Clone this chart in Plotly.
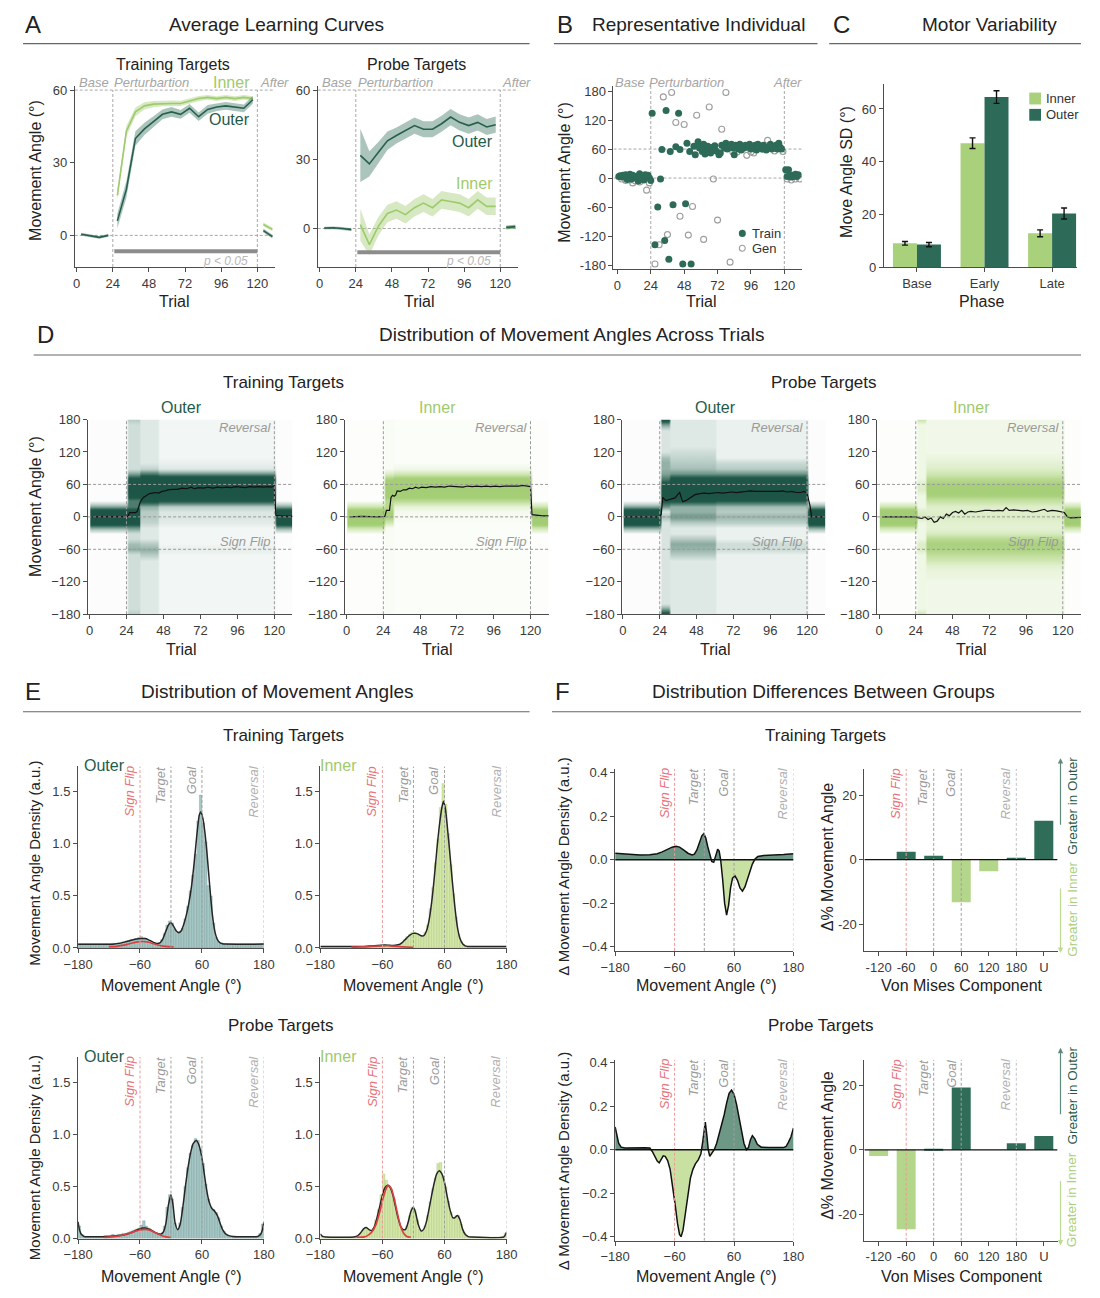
import plotly.graph_objects as go

# The page body keeps its default 8px margin, so the figure is sized to fit inside the window
# and everything is placed in window-pixel coordinates shifted by that margin.
OFF = 8
FW, FH = 1084, 1282
FONT = "Liberation Sans, Arial, sans-serif"
OUTER = "#2d6b58"
OUTER_TXT = "#1f5b4a"
INNER = "#a9d17c"
INNER_TXT = "#9fca6c"
GRAY = "#a5a5a5"
AXC = "#4d4d4d"
RED_LINE = "#f09a9a"
RED_TXT = "#e8737a"
RED_CURVE = "#d8413f"

# ======================= DATA =======================
# ---- Panel A: average learning curves (binned trials) ----
A_BASE_T = [3, 9, 15, 21]
A_PERT_T = [27, 33, 39, 45, 51, 57, 63, 69, 75, 81, 87, 93, 99, 105, 111, 117]
A_AFTER_T = [124, 130]
A_TRAIN_INNER = [16.5, 43, 51, 53.5, 54.2, 54.5, 54.5, 54.5, 55.5, 56.5, 57, 56.5, 57, 56.5, 57, 56.5]
A_TRAIN_INNER_SE = [2.0, 2.2, 1.8, 1.5, 1.3, 1.2, 1.2, 1.1, 1.1, 1.1, 1.0, 1.0, 1.0, 1.0, 1.0, 1.0]
A_TRAIN_OUTER = [6, 19, 40, 44, 47, 50, 51, 50, 52.5, 49, 52, 53, 53.5, 53, 52.5, 56]
A_TRAIN_OUTER_SE = [3.0, 3.5, 3.0, 2.5, 2.2, 2.0, 2.0, 1.8, 1.8, 1.8, 1.8, 1.6, 1.6, 1.6, 1.6, 1.6]
A_PROBE_INNER = [1.7, -7, 1, 6.5, 8, 6, 9, 11, 9, 12.4, 11.7, 11, 9, 12.4, 9.6, 9.6]
A_PROBE_INNER_SE = [7.0, 4.5, 4.0, 3.8, 3.8, 3.8, 3.8, 3.8, 3.8, 3.8, 3.8, 3.8, 3.8, 3.8, 3.8, 3.8]
A_PROBE_OUTER = [31.7, 28, 33, 38, 40.3, 42.4, 44.6, 43, 43, 45.4, 48.3, 46, 44.6, 46, 44, 45]
A_PROBE_OUTER_SE = [11.5, 5.5, 4.5, 4.0, 3.5, 3.5, 3.5, 3.5, 3.5, 3.5, 3.5, 3.5, 3.5, 3.5, 3.5, 3.5]
A_TRAIN_BASE = [0.5, 0.0, -0.8, 0.0]
A_PROBE_BASE = [0.2, 0.3, 0.0, -0.5]
A_BASE_SE = [0.6, 0.6, 0.6, 0.6]
A_TRAIN_AFTER_INNER = [4.5, 2.5]
A_TRAIN_AFTER_OUTER = [2.0, -0.5]
A_PROBE_AFTER_INNER = [0.3, 0.6]
A_PROBE_AFTER_OUTER = [0.5, 0.8]
A_AFTER_SE = [0.8, 0.8]
A_SIG_TRIALS = [25, 120]
A_SIG_LEVEL = {1: -6.5, 2: -10.3}

# ---- Panel B: representative individual (trial, angle) ----
B_TRAIN = [(1, 3), (2, 5), (3, 2), (4, 6), (5, 4), (6, 7), (7, -3), (8, 5), (9, 8), (10, -2), (11, 6),
           (12, 3), (13, 0), (14, 4), (15, -6), (16, 9), (17, 2), (18, 5), (19, -4), (20, 7), (21, 3),
           (22, 6), (23, 0), (24, -5),
           (25, 134), (27, -138), (29, -60), (31, -2), (32, 59), (34, -129), (35, 140), (37, -168),
           (38, 55), (40, -55), (42, 65), (44, 134), (45, 59), (47, -178), (49, -53), (50, 72), (52, 55),
           (53, -178), (55, 66), (56, 48), (58, 75), (59, 62), (60, 68), (61, 55), (62, 70), (63, 50),
           (64, 60), (65, 66), (67, 52), (68, 63), (70, 67), (71, 56), (73, 48), (74, 52), (75, 68),
           (77, 62), (78, 72), (79, 60), (80, 66), (82, 70), (83, 62), (84, 48), (85, 68), (87, 60),
           (88, 70), (89, 58), (90, 65), (91, 62), (92, 68), (94, 64), (95, 70), (96, 60), (97, 66),
           (99, 68), (100, 58), (101, 70), (102, 63), (103, 66), (104, 60), (105, 68), (106, 64),
           (107, 58), (109, 62), (110, 70), (111, 60), (112, 65), (113, 62), (114, 68), (115, 60),
           (116, 72), (117, 64), (118, 60),
           (121, 17), (122, 3), (123, 17), (124, 5), (125, 2), (126, 6), (127, 4), (128, 8), (129, 3), (130, 7)]
B_GEN = [(3, -2), (6, -5), (9, -4), (11, -10), (13, -6), (16, -8), (19, -3), (21, -25), (23, -10),
         (27, -178), (30, -138), (33, 168), (36, -117), (39, 177), (42, 115), (45, -79), (48, 111),
         (51, -118), (54, -59), (57, 130), (62, -127), (66, 147), (69, -2), (72, -87), (75, 101),
         (78, 177), (81, -174), (83, 54), (86, 54), (89, 59), (93, 47), (96, 54), (98, 52), (104, 60),
         (108, 78), (113, 56), (119, 55), (122, -2), (125, -4), (128, -2), (131, -2)]
B_LEGEND = ["Train", "Gen"]

# ---- Panel C: motor variability ----
C_PHASES = ["Base", "Early", "Late"]
C_GROUPS = ["Inner", "Outer"]
C_INNER = [9.0, 47.0, 12.8]
C_INNER_SE = [0.7, 2.0, 1.3]
C_OUTER = [8.5, 64.5, 20.3]
C_OUTER_SE = [0.8, 2.4, 2.1]

# ---- Panel D: density heatmaps, angle profiles per trial phase (bg, {angle: density}) ----
D_ANGLES = list(range(-180, 181, 10))
D_TRIALS = list(range(1, 133))
BASE_OUT = (0.02, {-20: 0.45, -10: 1.0, 0: 1.0, 10: 1.0, 20: 0.45})
BASE_IN = (0.01, {-20: 0.45, -10: 1.0, 0: 1.0, 10: 1.0, 20: 0.45})
D1_PHASES = [(1, 24, BASE_OUT),
             (25, 32, (0.2, {-180: 0.3, -60: 0.4, -50: 0.35, -20: 0.5, -10: 0.9, 0: 1.0, 10: 0.9, 20: 0.6,
                             30: 0.6, 40: 0.85, 50: 0.95, 60: 0.95, 70: 0.8, 80: 0.45, 180: 0.3})),
             (33, 44, (0.14, {-70: 0.3, -60: 0.4, -50: 0.3, -10: 0.25, 0: 0.3, 10: 0.3, 20: 0.4, 30: 0.85,
                              40: 1.0, 50: 1.0, 60: 1.0, 70: 1.0, 80: 0.6, 90: 0.25})),
             (45, 120, (0.06, {-60: 0.1, -10: 0.12, 0: 0.15, 10: 0.15, 20: 0.28, 30: 0.78, 40: 1.0, 50: 1.0,
                               60: 1.0, 70: 1.0, 80: 0.5, 90: 0.14, 100: 0.09})),
             (121, 132, BASE_OUT)]
D2_PHASES = [(1, 24, BASE_IN),
             (25, 30, (0.04, {-10: 0.4, 0: 0.75, 10: 0.75, 20: 0.6, 30: 0.6, 40: 0.85, 50: 0.9, 60: 0.9,
                              70: 0.7, 80: 0.3})),
             (31, 120, (0.025, {0: 0.05, 10: 0.06, 20: 0.2, 30: 0.6, 40: 0.85, 50: 0.9, 60: 0.9, 70: 0.8,
                                80: 0.4, 90: 0.1})),
             (121, 132, BASE_IN)]
D3_PHASES = [(1, 24, BASE_OUT),
             (25, 30, (0.16, {-180: 0.9, -170: 0.45, 0: 0.35, 20: 0.5, 30: 0.8, 40: 0.95, 50: 0.95, 60: 0.85,
                              70: 0.6, 80: 0.45, 90: 0.4, 100: 0.4, 110: 0.35, 170: 0.45, 180: 0.9})),
             (31, 60, (0.14, {-70: 0.3, -60: 0.38, -50: 0.42, -40: 0.3, -10: 0.3, 0: 0.5, 10: 0.4, 20: 0.4,
                              30: 0.8, 40: 1.0, 50: 1.0, 60: 1.0, 70: 0.85, 80: 0.5, 90: 0.35, 100: 0.3,
                              110: 0.25, 120: 0.2})),
             (61, 120, (0.09, {-60: 0.2, -50: 0.2, -10: 0.28, 0: 0.38, 10: 0.3, 20: 0.35, 30: 0.75, 40: 1.0,
                               50: 1.0, 60: 1.0, 70: 0.85, 80: 0.5, 90: 0.3, 100: 0.22})),
             (121, 132, BASE_OUT)]
D4_PHASES = [(1, 24, BASE_IN),
             (25, 30, (0.12, {-180: 0.45, -60: 0.3, -50: 0.3, 0: 0.35, 10: 0.3, 50: 0.3, 60: 0.3, 180: 0.45})),
             (31, 120, (0.1, {-110: 0.15, -100: 0.18, -90: 0.25, -80: 0.4, -70: 0.55, -60: 0.68, -50: 0.72,
                              -40: 0.6, -30: 0.35, -20: 0.22, -10: 0.25, 0: 0.32, 10: 0.28, 20: 0.28, 30: 0.5,
                              40: 0.72, 50: 0.78, 60: 0.75, 70: 0.6, 80: 0.42, 90: 0.3, 100: 0.22, 110: 0.16})),
             (121, 132, BASE_IN)]
D1_MEAN = [(2, 0), (24, 0), (25, 1), (26, 8), (30, 8), (31, 10), (32, 18), (33, 28), (35, 36), (37, 40),
           (39, 43), (41, 44), (43, 45), (45, 44), (47, 47), (49, 48), (51, 50), (54, 51), (57, 51), (60, 53),
           (63, 52), (66, 55), (68, 52), (71, 54), (74, 53), (77, 55), (80, 53), (83, 55), (86, 54), (89, 55),
           (92, 54), (95, 56), (98, 55), (101, 54), (104, 56), (107, 55), (110, 56), (113, 55), (116, 56),
           (118, 55), (120, 57), (121, 3), (124, 2), (128, 2), (132, 1)]
D2_MEAN = [(2, 0), (10, 1), (20, 0), (24, 0), (25, 1), (26, 12), (28, 12), (29, 36), (30, 40), (31, 38),
           (32, 40), (33, 48), (35, 47), (37, 50), (39, 50), (41, 53), (43, 52), (45, 55), (47, 53), (49, 55),
           (52, 54), (55, 56), (58, 55), (61, 56), (64, 55), (67, 57), (70, 56), (73, 56), (76, 55), (79, 57),
           (82, 56), (85, 57), (88, 56), (91, 57), (94, 56), (97, 57), (100, 56), (103, 57), (106, 57),
           (109, 56), (112, 57), (115, 58), (118, 57), (120, 56), (121, 4), (124, 3), (128, 2), (132, 2)]
D3_MEAN = [(2, 0), (24, 0), (25, 5), (26, 36), (28, 30), (30, 32), (32, 33), (34, 35), (36, 42), (37, 45),
           (38, 36), (39, 28), (41, 30), (43, 34), (45, 38), (47, 41), (50, 43), (53, 44), (56, 43), (59, 44),
           (62, 45), (65, 44), (68, 45), (71, 46), (74, 45), (77, 46), (80, 47), (83, 48), (86, 47), (89, 47),
           (92, 46), (95, 47), (98, 46), (101, 47), (104, 48), (107, 46), (110, 47), (113, 45), (116, 45),
           (118, 47), (120, 44), (122, 20), (123, 0), (132, 0)]
D4_MEAN = [(2, 0), (24, 0), (26, -2), (28, -3), (30, 0), (32, -5), (34, -2), (36, -10), (38, -8), (40, 0),
           (42, -3), (44, 5), (46, 2), (48, 8), (50, 10), (52, 7), (54, 12), (56, 5), (58, 9), (60, 10),
           (63, 9), (66, 11), (69, 12), (72, 12), (75, 11), (78, 12), (81, 11), (83, 17), (85, 12), (88, 13),
           (91, 12), (94, 11), (97, 12), (100, 9), (103, 10), (106, 12), (108, 14), (110, 10), (113, 12),
           (116, 11), (119, 10), (121, 8), (123, 0), (125, -2), (132, -1)]

# ---- Panel E: angle histograms (5 deg bins), fitted density and sign-flip component ----
E_CENTERS = [-177.5 + 5 * k for k in range(72)]
E1_HIST_BASE = 0.04
E1_HIST = {-112.5: 0.045, -107.5: 0.04, -102.5: 0.05, -97.5: 0.05, -92.5: 0.06, -87.5: 0.055, -82.5: 0.07,
           -77.5: 0.08, -72.5: 0.075, -67.5: 0.09, -62.5: 0.1, -57.5: 0.11, -52.5: 0.095, -47.5: 0.085,
           -42.5: 0.07, -37.5: 0.05, -32.5: 0.05, -27.5: 0.04, -22.5: 0.05, -17.5: 0.08, -12.5: 0.14,
           -7.5: 0.22, -2.5: 0.26, 2.5: 0.24, 7.5: 0.18, 12.5: 0.14, 17.5: 0.16, 22.5: 0.19, 27.5: 0.28,
           32.5: 0.4, 37.5: 0.55, 42.5: 0.7, 47.5: 0.9, 52.5: 1.22, 57.5: 1.47, 62.5: 1.2, 67.5: 1.02,
           72.5: 0.6, 77.5: 0.5, 82.5: 0.24, 87.5: 0.1, 92.5: 0.06, 97.5: 0.05}
E2_HIST_BASE = 0.015
E2_HIST = {-67.5: 0.02, -62.5: 0.03, -57.5: 0.03, -52.5: 0.03, -47.5: 0.025, -42.5: 0.025, -27.5: 0.03,
           -22.5: 0.05, -17.5: 0.08, -12.5: 0.11, -7.5: 0.13, -2.5: 0.15, 2.5: 0.15, 7.5: 0.14, 12.5: 0.12,
           17.5: 0.11, 22.5: 0.15, 27.5: 0.22, 32.5: 0.38, 37.5: 0.58, 42.5: 0.82, 47.5: 1.05, 52.5: 1.35,
           57.5: 1.58, 62.5: 1.38, 67.5: 1.1, 72.5: 0.8, 77.5: 0.52, 82.5: 0.3, 87.5: 0.13, 92.5: 0.06,
           97.5: 0.03}
E3_HIST_BASE = 0.02
E3_HIST = {-177.5: 0.12, -172.5: 0.04, -127.5: 0.03, -122.5: 0.03, -117.5: 0.03, -112.5: 0.04, -107.5: 0.03,
           -102.5: 0.04, -97.5: 0.04, -92.5: 0.05, -87.5: 0.05, -82.5: 0.06, -77.5: 0.07, -72.5: 0.08,
           -67.5: 0.09, -62.5: 0.1, -57.5: 0.13, -52.5: 0.17, -47.5: 0.12, -42.5: 0.1, -37.5: 0.08,
           -32.5: 0.06, -27.5: 0.05, -22.5: 0.04, -17.5: 0.05, -12.5: 0.12, -7.5: 0.3, -2.5: 0.42, 2.5: 0.38,
           7.5: 0.15, 12.5: 0.09, 17.5: 0.15, 22.5: 0.3, 27.5: 0.5, 32.5: 0.68, 37.5: 0.82, 42.5: 0.9,
           47.5: 0.96, 52.5: 0.94, 57.5: 0.86, 62.5: 0.72, 67.5: 0.52, 72.5: 0.38, 77.5: 0.3, 82.5: 0.28,
           87.5: 0.25, 92.5: 0.2, 97.5: 0.12, 102.5: 0.07, 107.5: 0.04, 112.5: 0.03, 172.5: 0.05, 177.5: 0.14}
E4_HIST_BASE = 0.015
E4_HIST = {-177.5: 0.03, -102.5: 0.04, -97.5: 0.08, -92.5: 0.1, -87.5: 0.09, -82.5: 0.08, -77.5: 0.1,
           -72.5: 0.18, -67.5: 0.28, -62.5: 0.42, -57.5: 0.62, -52.5: 0.56, -47.5: 0.5, -42.5: 0.47,
           -37.5: 0.38, -32.5: 0.26, -27.5: 0.15, -22.5: 0.1, -17.5: 0.08, -12.5: 0.12, -7.5: 0.22, -2.5: 0.3,
           2.5: 0.28, 7.5: 0.18, 12.5: 0.09, 17.5: 0.07, 22.5: 0.12, 27.5: 0.22, 32.5: 0.35, 37.5: 0.48,
           42.5: 0.58, 47.5: 0.72, 52.5: 0.73, 57.5: 0.6, 62.5: 0.5, 67.5: 0.36, 72.5: 0.25, 77.5: 0.2,
           82.5: 0.22, 87.5: 0.22, 92.5: 0.14, 97.5: 0.06, 102.5: 0.03, 177.5: 0.05}
E1_FIT = [(-180, 0.035), (-115, 0.035), (-110, 0.037), (-100, 0.044), (-90, 0.056), (-80, 0.07), (-70, 0.083),
          (-60, 0.09), (-55, 0.092), (-50, 0.09), (-45, 0.083), (-40, 0.07), (-35, 0.056), (-30, 0.046),
          (-25, 0.042), (-20, 0.055), (-15, 0.095), (-10, 0.16), (-5, 0.22), (0, 0.245), (5, 0.21),
          (10, 0.165), (15, 0.145), (20, 0.165), (25, 0.23), (30, 0.32), (35, 0.44), (40, 0.6), (45, 0.82),
          (50, 1.08), (55, 1.28), (58, 1.31), (62, 1.24), (66, 1.1), (70, 0.9), (75, 0.6), (80, 0.33),
          (85, 0.16), (90, 0.08), (95, 0.05), (100, 0.04), (105, 0.037), (180, 0.037)]
E2_FIT = [(-180, 0.015), (-100, 0.015), (-90, 0.017), (-80, 0.02), (-70, 0.024), (-60, 0.027), (-50, 0.027),
          (-40, 0.024), (-30, 0.03), (-25, 0.04), (-20, 0.06), (-15, 0.085), (-10, 0.11), (-5, 0.13),
          (0, 0.14), (5, 0.14), (10, 0.13), (15, 0.117), (20, 0.118), (25, 0.16), (30, 0.26), (35, 0.43),
          (40, 0.66), (45, 0.93), (50, 1.17), (55, 1.35), (58, 1.41), (62, 1.33), (66, 1.14), (70, 0.93),
          (75, 0.65), (80, 0.4), (85, 0.2), (90, 0.09), (95, 0.04), (100, 0.02), (105, 0.015), (180, 0.015)]
E3_FIT = [(-180, 0.16), (-177, 0.08), (-173, 0.035), (-168, 0.02), (-120, 0.02), (-110, 0.023), (-100, 0.028),
          (-90, 0.037), (-80, 0.05), (-70, 0.072), (-60, 0.093), (-55, 0.1), (-50, 0.1), (-45, 0.095),
          (-40, 0.085), (-35, 0.07), (-30, 0.056), (-25, 0.046), (-20, 0.042), (-15, 0.06), (-10, 0.14),
          (-5, 0.32), (0, 0.42), (4, 0.32), (8, 0.15), (13, 0.085), (18, 0.14), (23, 0.3), (28, 0.5),
          (33, 0.68), (38, 0.82), (43, 0.91), (49, 0.94), (54, 0.9), (59, 0.8), (64, 0.64), (69, 0.47),
          (74, 0.35), (79, 0.29), (85, 0.26), (90, 0.22), (95, 0.15), (100, 0.085), (106, 0.045),
          (112, 0.028), (120, 0.02), (168, 0.02), (173, 0.035), (177, 0.08), (180, 0.16)]
E4_FIT = [(-180, 0.045), (-176, 0.02), (-170, 0.015), (-115, 0.015), (-108, 0.025), (-102, 0.055), (-96, 0.095),
          (-91, 0.105), (-86, 0.085), (-81, 0.075), (-76, 0.11), (-71, 0.19), (-66, 0.29), (-61, 0.4),
          (-56, 0.48), (-50, 0.51), (-45, 0.49), (-40, 0.42), (-35, 0.31), (-30, 0.2), (-25, 0.12),
          (-20, 0.085), (-15, 0.09), (-10, 0.16), (-5, 0.26), (0, 0.3), (4, 0.25), (9, 0.14), (15, 0.072),
          (20, 0.09), (25, 0.16), (30, 0.28), (35, 0.41), (40, 0.53), (45, 0.62), (50, 0.65), (55, 0.62),
          (60, 0.54), (65, 0.41), (70, 0.29), (76, 0.2), (80, 0.2), (85, 0.22), (90, 0.18), (95, 0.09),
          (100, 0.04), (106, 0.018), (112, 0.015), (175, 0.015), (180, 0.06)]
E1_FLIP = [(-120, 0.012), (-105, 0.016), (-95, 0.024), (-85, 0.035), (-75, 0.048), (-65, 0.058), (-55, 0.062),
           (-45, 0.057), (-35, 0.043), (-25, 0.028), (-15, 0.017), (-5, 0.012), (5, 0.01)]
E2_FLIP = [(-120, 0.008), (-100, 0.01), (-80, 0.015), (-60, 0.02), (-50, 0.021), (-40, 0.018), (-20, 0.01),
           (0, 0.006)]
E3_FLIP = [(-130, 0.01), (-115, 0.016), (-100, 0.026), (-90, 0.036), (-80, 0.05), (-70, 0.068), (-60, 0.082),
           (-50, 0.088), (-40, 0.078), (-30, 0.055), (-20, 0.032), (-10, 0.016), (0, 0.01)]
E4_FLIP = [(-110, 0.012), (-95, 0.015), (-88, 0.03), (-80, 0.065), (-72, 0.14), (-65, 0.26), (-58, 0.4),
           (-52, 0.49), (-48, 0.51), (-43, 0.48), (-37, 0.38), (-31, 0.24), (-25, 0.12), (-19, 0.05),
           (-13, 0.02), (-5, 0.012)]

# ---- Panel F: differences (outer - inner) ----
F1_DIFF = [(-180, 0.03), (-165, 0.027), (-150, 0.024), (-130, 0.022), (-110, 0.023), (-95, 0.028), (-85, 0.036),
           (-75, 0.048), (-65, 0.058), (-57, 0.062), (-50, 0.058), (-42, 0.045), (-33, 0.03), (-25, 0.022),
           (-20, 0.026), (-15, 0.045), (-10, 0.08), (-5, 0.11), (-1, 0.12), (3, 0.1), (7, 0.06), (11, 0.02),
           (15, -0.008), (19, -0.012), (23, 0.015), (27, 0.048), (30, 0.04), (33, 0.0), (37, -0.09),
           (41, -0.2), (45, -0.255), (49, -0.21), (53, -0.13), (57, -0.085), (62, -0.075), (67, -0.095),
           (72, -0.13), (77, -0.145), (82, -0.125), (87, -0.09), (92, -0.05), (97, -0.02), (102, 0.002),
           (108, 0.015), (120, 0.02), (140, 0.021), (160, 0.024), (180, 0.028)]
F3_DIFF = [(-180, 0.105), (-177, 0.07), (-173, 0.03), (-168, 0.012), (-160, 0.008), (-120, 0.009), (-110, 0.008),
           (-105, -0.008), (-100, -0.03), (-95, -0.052), (-91, -0.06), (-87, -0.045), (-83, -0.028),
           (-79, -0.03), (-74, -0.05), (-69, -0.09), (-64, -0.16), (-59, -0.25), (-54, -0.34), (-50, -0.39),
           (-47, -0.4), (-43, -0.37), (-38, -0.29), (-33, -0.2), (-28, -0.13), (-23, -0.09), (-18, -0.065),
           (-12, -0.045), (-7, -0.02), (-3, 0.04), (0, 0.11), (2, 0.128), (5, 0.07), (8, 0.0), (11, -0.03),
           (15, -0.018), (20, 0.0), (25, 0.03), (30, 0.075), (35, 0.11), (40, 0.16), (45, 0.215), (50, 0.26),
           (55, 0.275), (60, 0.255), (65, 0.21), (70, 0.15), (75, 0.09), (80, 0.03), (85, 0.0), (89, 0.01),
           (93, 0.045), (97, 0.065), (102, 0.05), (107, 0.025), (115, 0.012), (130, 0.01), (160, 0.01),
           (165, 0.015), (170, 0.035), (175, 0.06), (180, 0.1)]
F_COMPONENTS = ["-120", "-60", "0", "60", "120", "180", "U"]
F2_DPCT = [0.0, 2.5, 1.2, -13.2, -3.6, 0.35, 12.1]
F4_DPCT = [-1.9, -24.6, 0.2, 19.3, 0.0, 2.0, 4.3]

# ======================= LAYOUT GEOMETRY =======================
# n: (x px span, y px span, x range, y range)  -- in window pixels
AXES = {
    1: ((61, 266), (80, 263), (-1.3, 131.6), (-13.06, 61.63)),
    2: ((310, 515), (80, 263), (-1.3, 131.7), (-16.7, 61.7)),
    3: ((613, 806), (80, 265), (-2.8, 132.6), (-188.2, 190.2)),
    4: ((890, 1088), (78, 263), (-0.49, 2.37), (0, 69.4)),
    5: ((74.7, 284), (417.3, 614.3), (-0.9, 131.7), (-180, 180)),
    6: ((338, 546.5), (417.3, 614.3), (-0.96, 131.8), (-180, 180)),
    7: ((622, 830), (417.3, 614.3), (-0.4, 131.9), (-180, 180)),
    8: ((883, 1092), (417.3, 614.3), (-1.3, 131.9), (-180, 180)),
    9: ((64.4, 254.8), (768.3, 952), (-180, 180), (0, 1.745)),
    10: ((312.7, 503.4), (768.3, 952), (-180, 180), (0, 1.745)),
    11: ((64.4, 254.8), (1062, 1246), (-180, 180), (0, 1.745)),
    12: ((312.7, 503.4), (1062, 1246), (-180, 180), (0, 1.745)),
    13: ((614.7, 797.4), (770.7, 955), (-180, 180), (-0.42, 0.419)),
    14: ((870, 1068), (770.7, 955), (-0.52, 6.5), (-28.3, 28.2)),
    15: ((614.7, 797.4), (1065, 1248.3), (-180, 180), (-0.419, 0.415)),
    16: ((870, 1068), (1065, 1248.3), (-0.52, 6.5), (-28.2, 27.96)),
}


def PX(x):
    return min(max((x - OFF) / FW, 0.0), 1.0)


def PY(y):
    return min(max(1 - (y - OFF) / FH, 0.0), 1.0)


def ids(n):
    return ("x", "y") if n == 1 else (f"x{n}", f"y{n}")


def keys(n):
    return ("xaxis", "yaxis") if n == 1 else (f"xaxis{n}", f"yaxis{n}")


fig = go.Figure()
shapes = []
annotations = []


def add(tr):
    fig.add_trace(tr)


def sc(n, x, y, **kw):
    xa, ya = ids(n)
    return go.Scatter(x=x, y=y, xaxis=xa, yaxis=ya, showlegend=False, hoverinfo="skip", **kw)


def unzip(pairs):
    return [p[0] for p in pairs], [p[1] for p in pairs]


def text(x, y, s, size=13, color="#222", xa="center", ya="middle", angle=0):
    annotations.append(dict(x=PX(x), y=PY(y), xref="paper", yref="paper", text=s, showarrow=False,
                            font=dict(family=FONT, size=size, color=color), xanchor=xa, yanchor=ya,
                            textangle=angle))


def dline(n, x0, x1, y0, y1, color="#a8a8a8", width=1, dash="3px,2px", layer="above"):
    xa, ya = ids(n)
    shapes.append(dict(type="line", xref=xa, yref=ya, x0=x0, x1=x1, y0=y0, y1=y1,
                       line=dict(color=color, width=width, dash=dash), layer=layer))


def pline(x0, y0, x1, y1, color="#666", width=1.2):
    shapes.append(dict(type="line", xref="paper", yref="paper", x0=PX(x0), y0=PY(y0), x1=PX(x1), y1=PY(y1),
                       line=dict(color=color, width=width)))


def pshape(kind, cx, cy, r, fill, line_color, lw=0):
    shapes.append(dict(type=kind, xref="paper", yref="paper", x0=PX(cx - r), x1=PX(cx + r), y0=PY(cy + r),
                       y1=PY(cy - r), fillcolor=fill, line=dict(color=line_color, width=lw)))


# ======================= PANEL A =======================
def band_line(n, xs, mean, se, lcolor, fcolor, width=1.6):
    up = [m + s for m, s in zip(mean, se)]
    lo = [m - s for m, s in zip(mean, se)]
    add(sc(n, xs + xs[::-1], up + lo[::-1], fill="toself", fillcolor=fcolor, line=dict(width=0), mode="lines"))
    add(sc(n, xs, mean, mode="lines", line=dict(color=lcolor, width=width)))


IN_L, IN_F = "#9dcb6b", "rgba(166,207,120,0.45)"
OUT_L, OUT_F = "#275f4f", "rgba(45,107,88,0.40)"
for n, base, ai, ao, ise, oi, o, ose in [
        (1, A_TRAIN_BASE, A_TRAIN_AFTER_INNER, A_TRAIN_AFTER_OUTER, A_TRAIN_INNER_SE, A_TRAIN_INNER,
         A_TRAIN_OUTER, A_TRAIN_OUTER_SE),
        (2, A_PROBE_BASE, A_PROBE_AFTER_INNER, A_PROBE_AFTER_OUTER, A_PROBE_INNER_SE, A_PROBE_INNER,
         A_PROBE_OUTER, A_PROBE_OUTER_SE)]:
    xr, yr = AXES[n][2], AXES[n][3]
    dline(n, xr[0], xr[1], 60, 60, layer="below")
    dline(n, xr[0], xr[1], 0, 0, layer="below")
    dline(n, 24, 24, yr[0], 60, layer="below")
    dline(n, 120, 120, yr[0], 60, layer="below")
    band_line(n, A_PERT_T, oi, ise, IN_L, IN_F)
    band_line(n, A_PERT_T, o, ose, OUT_L, OUT_F)
    band_line(n, A_BASE_T, base, A_BASE_SE, OUT_L, OUT_F)
    band_line(n, A_AFTER_T, ai, A_AFTER_SE, IN_L, IN_F)
    band_line(n, A_AFTER_T, ao, A_AFTER_SE, OUT_L, OUT_F)
    xa, ya = ids(n)
    shapes.append(dict(type="line", xref=xa, yref=ya, x0=A_SIG_TRIALS[0], x1=A_SIG_TRIALS[1],
                       y0=A_SIG_LEVEL[n], y1=A_SIG_LEVEL[n], line=dict(color="#8c8c8c", width=4)))

# ======================= PANEL B =======================
xr, yr = AXES[3][2], AXES[3][3]
dline(3, xr[0], xr[1], 60, 60, layer="below")
dline(3, xr[0], xr[1], 0, 0, layer="below")
dline(3, 24, 24, yr[0], yr[1], layer="below")
dline(3, 120, 120, yr[0], yr[1], layer="below")
gx, gy = unzip(B_GEN)
tx, ty = unzip(B_TRAIN)
add(sc(3, gx, gy, mode="markers", name="Gen",
       marker=dict(symbol="circle-open", color="#9d9d9d", size=6, line=dict(width=1.1))))
add(sc(3, tx, ty, mode="markers", name="Train", marker=dict(color=OUTER, size=7, line=dict(width=0))))
# legend glyphs (drawn in window coordinates)
pshape("circle", 745, 229, 3.6, OUTER, OUTER, 0)
pshape("circle", 745, 244, 3.0, "rgba(0,0,0,0)", "#9d9d9d", 1.1)
text(753, 229, B_LEGEND[0], 13, "#333", xa="left")
text(753, 244, B_LEGEND[1], 13, "#333", xa="left")

# ======================= PANEL C =======================
add(go.Bar(x=[0, 1, 2], y=C_INNER, name="Inner", xaxis="x4", yaxis="y4", showlegend=False,
           marker=dict(color=INNER, line=dict(width=0)), hoverinfo="skip",
           error_y=dict(type="data", array=C_INNER_SE, color="#111", thickness=1.4, width=3)))
add(go.Bar(x=[0, 1, 2], y=C_OUTER, name="Outer", xaxis="x4", yaxis="y4", showlegend=False,
           marker=dict(color=OUTER, line=dict(width=0)), hoverinfo="skip",
           error_y=dict(type="data", array=C_OUTER_SE, color="#111", thickness=1.4, width=3)))
pshape("rect", 1045, 92.5, 6, INNER, INNER, 0)
pshape("rect", 1045, 109, 6, OUTER, OUTER, 0)
text(1054, 92.5, C_GROUPS[0], 13, "#333", xa="left")
text(1054, 109, C_GROUPS[1], 13, "#333", xa="left")

# ======================= PANEL D =======================
CS_OUT = [[0, "#ffffff"], [0.06, "#f2f6f4"], [0.3, "#b7ccc5"], [0.55, "#5c887a"], [0.75, "#1f5849"], [1, "#1c5445"]]
CS_IN = [[0, "#ffffff"], [0.06, "#f5faef"], [0.3, "#ddeec8"], [0.55, "#c0de9b"], [0.75, "#a6cf78"], [1, "#a3cd74"]]


def build_z(phases):
    z = [[0.0] * len(D_TRIALS) for _ in D_ANGLES]
    for t0, t1, (bg, peaks) in phases:
        col = [peaks.get(a, bg) for a in D_ANGLES]
        for t in range(t0, t1 + 1):
            for r in range(len(D_ANGLES)):
                z[r][t - 1] = col[r]
    return z


for n, phases, cs, mean in [(5, D1_PHASES, CS_OUT, D1_MEAN), (6, D2_PHASES, CS_IN, D2_MEAN),
                            (7, D3_PHASES, CS_OUT, D3_MEAN), (8, D4_PHASES, CS_IN, D4_MEAN)]:
    xa, ya = ids(n)
    add(go.Heatmap(x=D_TRIALS, y=D_ANGLES, z=build_z(phases), colorscale=cs, zmin=0, zmax=1, zsmooth="best",
                   showscale=False, xaxis=xa, yaxis=ya, hoverinfo="skip"))
    mx, my = unzip(mean)
    add(sc(n, mx, my, mode="lines", line=dict(color="#111", width=1.2)))
    xr = AXES[n][2]
    for yv in (60, -60, 0):
        dline(n, xr[0], xr[1], yv, yv, color="#9a9a9a")
    dline(n, 24, 24, -180, 180, color="#9a9a9a")
    dline(n, 120, 120, -180, 180, color="#9a9a9a")
    annotations.append(dict(x=119, y=166, xref=xa, yref=ya, text="<i>Reversal</i>", showarrow=False,
                            xanchor="right", font=dict(family=FONT, size=13, color="#9a9a9a")))
    annotations.append(dict(x=119, y=-45, xref=xa, yref=ya, text="<i>Sign Flip</i>", showarrow=False,
                            xanchor="right", font=dict(family=FONT, size=13, color="#9a9a9a")))

# ======================= PANEL E =======================
REF_LABELS = [("Sign Flip", RED_TXT, RED_LINE), ("Target", "#9a9a9a", "#a0a0a0"),
              ("Goal", "#9a9a9a", "#a0a0a0"), ("Reversal", "#b0b0b0", "#c4c4c4")]
E_REF_X = [-60, 0, 60, 180]
F_REF_X = [1, 2, 3, 5]


def ref_lines(n, xs):
    xa, ya = ids(n)
    yr = AXES[n][3]
    for xv, (lab, tc, lc) in zip(xs, REF_LABELS):
        dline(n, xv, xv, yr[0], yr[1], color=lc)
        annotations.append(dict(x=xv, y=yr[1], xref=xa, yref=ya, text=f"<i>{lab}</i>", showarrow=False,
                                textangle=-90, xanchor="right", yanchor="top", xshift=-1, yshift=3,
                                font=dict(family=FONT, size=13, color=tc)))


for n, hist, hbase, fit, flip, bcol, bline in [
        (9, E1_HIST, E1_HIST_BASE, E1_FIT, E1_FLIP, "#a5c8c5", "rgba(80,110,110,0.55)"),
        (10, E2_HIST, E2_HIST_BASE, E2_FIT, E2_FLIP, "#d3e7a6", "rgba(140,165,95,0.55)"),
        (11, E3_HIST, E3_HIST_BASE, E3_FIT, E3_FLIP, "#a5c8c5", "rgba(80,110,110,0.55)"),
        (12, E4_HIST, E4_HIST_BASE, E4_FIT, E4_FLIP, "#d3e7a6", "rgba(140,165,95,0.55)")]:
    xa, ya = ids(n)
    heights = [hist.get(c, hbase) for c in E_CENTERS]
    add(go.Bar(x=E_CENTERS, y=heights, width=5, xaxis=xa, yaxis=ya, showlegend=False, hoverinfo="skip",
               marker=dict(color=bcol, line=dict(color=bline, width=0.4))))
    fx, fy = unzip(fit)
    add(sc(n, fx, fy, mode="lines", line=dict(color="#262626", width=1.5, shape="spline", smoothing=0.6)))
    rx, ry = unzip(flip)
    add(sc(n, rx, ry, mode="lines", line=dict(color=RED_CURVE, width=1.7, shape="spline", smoothing=0.6)))
    ref_lines(n, E_REF_X)


# ======================= PANEL F =======================
def split_sign(xs, ys):
    ox, oy = [xs[0]], [ys[0]]
    for i in range(1, len(xs)):
        x0, y0, x1, y1 = xs[i - 1], ys[i - 1], xs[i], ys[i]
        if y0 * y1 < 0:
            ox.append(x0 + (x1 - x0) * (-y0) / (y1 - y0))
            oy.append(0.0)
        ox.append(x1)
        oy.append(y1)
    return ox, [max(v, 0) for v in oy], [min(v, 0) for v in oy]


for n, diff in [(13, F1_DIFF), (15, F3_DIFF)]:
    dx, dy = unzip(diff)
    ox, pos, neg = split_sign(dx, dy)
    add(sc(n, ox, pos, mode="lines", fill="tozeroy", fillcolor="#6d9886", line=dict(width=0)))
    add(sc(n, ox, neg, mode="lines", fill="tozeroy", fillcolor="#c8e1a3", line=dict(width=0)))
    ref_lines(n, E_REF_X)
    dline(n, -180, 180, 0, 0, color="#111", width=1.3, dash="solid")
    add(sc(n, dx, dy, mode="lines", line=dict(color="#111", width=1.5)))

for n, vals in [(14, F2_DPCT), (16, F4_DPCT)]:
    xa, ya = ids(n)
    cols = ["#2f6d58" if v >= 0 else "#b3d68a" for v in vals]
    ref_lines(n, F_REF_X)
    add(go.Bar(x=list(range(len(F_COMPONENTS))), y=vals, width=0.69, xaxis=xa, yaxis=ya, showlegend=False,
               hoverinfo="skip", marker=dict(color=cols, line=dict(width=0))))
    dline(n, -0.52, 6.5, 0, 0, color="#111", width=1.3, dash="solid")

# ======================= AXES =======================
base_ax = dict(showline=True, linecolor=AXC, linewidth=1, ticks="outside", ticklen=4, tickwidth=1,
               tickcolor=AXC, showgrid=False, zeroline=False, fixedrange=True,
               tickfont=dict(family=FONT, size=13, color="#3a3a3a"))
layout = {}
for n, (xd, yd, xr, yr) in AXES.items():
    kx, ky = keys(n)
    xa, ya = ids(n)
    xax = dict(base_ax, domain=[PX(xd[0]), PX(xd[1])], range=list(xr), anchor=ya)
    yax = dict(base_ax, domain=[PY(yd[1]), PY(yd[0])], range=list(yr), anchor=xa)
    if n in (1, 2, 3, 5, 6, 7, 8):
        xax.update(tickvals=[0, 24, 48, 72, 96, 120])
    if n in (1, 2):
        yax.update(tickvals=[0, 30, 60])
    if n == 3:
        yax.update(tickvals=[-180, -120, -60, 0, 60, 120, 180],
                   ticktext=["-180", "-120", "-60", "0", "60", "120", "180"])
    if n == 4:
        xax.update(tickvals=[0, 1, 2], ticktext=C_PHASES)
        yax.update(tickvals=[0, 20, 40, 60])
    if n in (5, 6, 7, 8):
        yax.update(tickvals=[-180, -120, -60, 0, 60, 120, 180],
                   ticktext=["\u2212180", "\u2212120", "\u221260", "0", "60", "120", "180"])
    if n in (9, 10, 11, 12, 13, 15):
        xax.update(tickvals=[-180, -60, 60, 180], ticktext=["\u2212180", "\u221260", "60", "180"])
    if n in (9, 10, 11, 12):
        yax.update(tickvals=[0, 0.5, 1.0, 1.5], ticktext=["0.0", "0.5", "1.0", "1.5"])
    if n in (13, 15):
        yax.update(tickvals=[-0.4, -0.2, 0, 0.2, 0.4], ticktext=["\u22120.4", "\u22120.2", "0.0", "0.2", "0.4"])
    if n in (14, 16):
        xax.update(tickvals=list(range(len(F_COMPONENTS))), ticktext=F_COMPONENTS)
        yax.update(tickvals=[-20, 0, 20], ticktext=["-20", "0", "20"])
    layout[kx] = xax
    layout[ky] = yax

# ======================= TEXT =======================
HEAD = 19
text(8, 18, "A", 24, "#222", xa="left")
text(268, 18, "Average Learning Curves", HEAD)
text(553, 18, "B", 24, "#222", xa="left")
text(700, 18, "Representative Individual", HEAD)
text(836, 18, "C", 24, "#222", xa="left")
text(998, 18, "Motor Variability", HEAD)
text(20, 331, "D", 24, "#222", xa="left")
text(570, 331, "Distribution of Movement Angles Across Trials", HEAD)
text(8, 693, "E", 24, "#222", xa="left")
text(268, 693, "Distribution of Movement Angles", HEAD)
text(551, 693, "F", 24, "#222", xa="left")
text(828, 693, "Distribution Differences Between Groups", HEAD)
pline(8, 37, 527, 37)
pline(552, 37, 822, 37)
pline(834, 37, 1100, 37)
pline(19, 352, 1100, 352)
pline(8, 713, 527, 713)
pline(550, 713, 1100, 713)

text(162, 58, "Training Targets", 16)
text(411, 58, "Probe Targets", 16)
text(275, 380, "Training Targets", 17)
text(829, 380, "Probe Targets", 17)
text(170, 405, "Outer", 16, OUTER_TXT)
text(433, 405, "Inner", 16, INNER_TXT)
text(718, 405, "Outer", 16, OUTER_TXT)
text(980, 405, "Inner", 16, INNER_TXT)
text(275, 737, "Training Targets", 17)
text(830, 737, "Training Targets", 17)
text(272, 1030, "Probe Targets", 17)
text(826, 1030, "Probe Targets", 17)
for yy in (767, 1062):
    text(68, yy, "Outer", 16, OUTER_TXT, xa="left")
    text(310, yy, "Inner", 16, INNER_TXT, xa="left")

# axis titles
text(20, 165, "Movement Angle (°)", 16, angle=-90)
text(163, 298, "Trial", 16)
text(414, 298, "Trial", 16)
text(562, 167, "Movement Angle (°)", 16, angle=-90)
text(703, 298, "Trial", 16)
text(851, 167, "Move Angle SD (°)", 16, angle=-90)
text(990, 298, "Phase", 16)
text(20, 505, "Movement Angle (°)", 16, angle=-90)
for xx in (170, 433, 718, 980):
    text(xx, 650, "Trial", 16)
text(20, 866, "Movement Angle Density (a.u.)", 15, angle=-90)
text(20, 1164, "Movement Angle Density (a.u.)", 15, angle=-90)
for yy in (990, 1284):
    text(160, yy, "Movement Angle (°)", 16)
    text(408, yy, "Movement Angle (°)", 16)
    text(708, yy, "Movement Angle (°)", 16)
    text(970, yy, "Von Mises Component", 16)
text(562, 870, "\u0394 Movement Angle Density (a.u.)", 15, angle=-90)
text(562, 1168, "\u0394 Movement Angle Density (a.u.)", 15, angle=-90)
text(832, 860, "\u0394% Movement Angle", 16, angle=-90)
text(832, 1152, "\u0394% Movement Angle", 16, angle=-90)

# region labels
for bx, px_, ax_ in [(63, 99, 249), (312, 349, 497), (613, 647, 774)]:
    text(bx, 76, "<i>Base</i>", 13, GRAY, xa="left")
    text(px_, 76, "<i>Perturbartion</i>", 13, GRAY, xa="left")
    text(ax_, 76, "<i>After</i>", 13, GRAY, xa="left")
text(243, 76, "Inner", 16, INNER_TXT, xa="right")
text(243, 114, "Outer", 16, OUTER_TXT, xa="right")
text(492, 136, "Outer", 16, OUTER_TXT, xa="right")
text(492, 178, "Inner", 16, INNER_TXT, xa="right")
text(241, 257, "<i>p &lt; 0.05</i>", 12, "#b8b8b8", xa="right")
text(490, 257, "<i>p &lt; 0.05</i>", 12, "#b8b8b8", xa="right")

# F side arrows (kept inside the visible window edge)
for top, mid_o, mid_i, bot in [(760, 808, 913, 957), (1053, 1101, 1207, 1253)]:
    annotations.append(dict(x=PX(1071), y=PY(top), ax=0, ay=68, xref="paper", yref="paper", axref="pixel",
                            ayref="pixel", text="", showarrow=True, arrowhead=2, arrowsize=0.9, arrowwidth=1.2,
                            arrowcolor="#5f8a7c"))
    annotations.append(dict(x=PX(1071), y=PY(bot), ax=0, ay=-66, xref="paper", yref="paper", axref="pixel",
                            ayref="pixel", text="", showarrow=True, arrowhead=2, arrowsize=0.9, arrowwidth=1.2,
                            arrowcolor="#bcdc94"))
    text(1083, mid_o, "Greater in Outer", 13.5, OUTER_TXT, angle=-90)
    text(1083, mid_i, "Greater in Inner", 13.5, "#a9d07a", angle=-90)

fig.update_layout(
    width=FW, height=FH, margin=dict(l=0, r=0, t=0, b=0),
    paper_bgcolor="white", plot_bgcolor="white",
    font=dict(family=FONT, size=13, color="#222"),
    barmode="group", bargap=0.29, bargroupgap=0, showlegend=False,
    shapes=shapes, annotations=annotations,
    **layout,
)
fig.write_html("out.html")
